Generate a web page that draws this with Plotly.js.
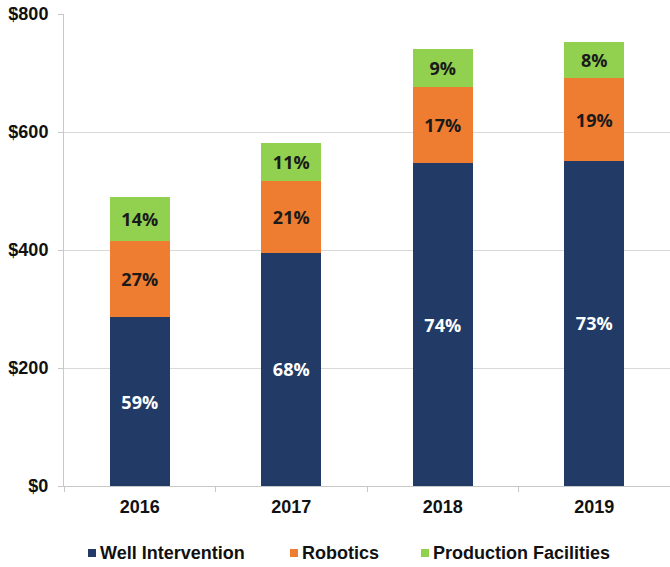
<!DOCTYPE html>
<html>
<head>
<meta charset="utf-8">
<script src="https://cdn.plot.ly/plotly-3.0.1.min.js"></script>
<style>html,body{margin:0;padding:0;background:#fff;}#chart{width:670px;height:567px;}</style>
</head>
<body>
<div id="chart"></div>
<script>
var years = ["2016", "2017", "2018", "2019"];
var wellIntervention = [286, 395, 547, 551];
var robotics = [129, 122, 130, 140];
var productionFacilities = [74, 64, 63, 62];
var wellPct = ["59%", "68%", "74%", "73%"];
var roboticsPct = ["27%", "21%", "17%", "19%"];
var prodPct = ["14%", "11%", "9%", "8%"];
var seriesNames = ["Well Intervention", "Robotics", "Production Facilities"];
var yTickVals = [0, 200, 400, 600, 800];
var yTickText = ["$0", "$200", "$400", "$600", "$800"];

var colors = ["#213a66", "#ee7d31", "#92d050"];
var textColors = ["#ffffff", "#1a1a1a", "#1a1a1a"];
var labelFont = "'Open Sans', sans-serif";
var axisFont = "'Liberation Sans', Arial, sans-serif";

function barTrace(name, vals, txt, i) {
  return {
    type: "bar", name: name, x: years, y: vals, text: txt,
    textposition: "inside", insidetextanchor: "middle", textangle: 0,
    constraintext: "none", texttemplate: "%{text}",
    textfont: {family: labelFont, size: 18, color: textColors[i], weight: 700},
    marker: {color: colors[i], line: {width: 0}},
    hoverinfo: "skip", showlegend: false
  };
}

var data = [
  barTrace(seriesNames[0], wellIntervention, wellPct, 0),
  barTrace(seriesNames[1], robotics, roboticsPct, 1),
  barTrace(seriesNames[2], productionFacilities, prodPct, 2)
];

// legend built as squares + text
var legendX = [88, 290, 421];
var shapes = [], annotations = [];
for (var i = 0; i < 3; i++) {
  shapes.push({type: "rect", xref: "paper", yref: "paper",
    x0: (legendX[i] - 64) / 606, x1: (legendX[i] + 8 - 64) / 606,
    y0: -(549 - 486) / 472, y1: -(557 - 486) / 472,
    fillcolor: colors[i], line: {width: 0}});
  annotations.push({xref: "paper", yref: "paper", x: (legendX[i] + 10 - 64) / 606,
    y: -(553 - 486) / 472, xanchor: "left", yanchor: "middle", showarrow: false,
    text: seriesNames[i],
    font: {family: axisFont, size: 18, color: "#111111", weight: 700}});
}

var layout = {
  width: 670, height: 567,
  margin: {l: 64, r: 0, t: 14, b: 81},
  paper_bgcolor: "#ffffff", plot_bgcolor: "#ffffff",
  barmode: "stack", bargap: 0.604,
  showlegend: false,
  xaxis: {
    type: "category", showgrid: false, showline: true, linecolor: "#c8c8c8", linewidth: 1,
    ticks: "outside", tickson: "boundaries", ticklen: 5, tickcolor: "#c8c8c8",
    tickfont: {family: axisFont, size: 18, color: "#111111", weight: 700},
    ticklabelstandoff: 4, fixedrange: true
  },
  yaxis: {
    range: [0, 800], tickmode: "array", tickvals: yTickVals, ticktext: yTickText,
    showgrid: true, gridcolor: "#d9d9d9", gridwidth: 1,
    showline: true, linecolor: "#c8c8c8", linewidth: 1,
    ticks: "outside", ticklen: 5, tickcolor: "#c8c8c8",
    tickfont: {family: axisFont, size: 18, color: "#111111", weight: 700},
    ticklabelstandoff: 6, zeroline: false, fixedrange: true
  },
  shapes: shapes,
  annotations: annotations
};

Plotly.newPlot("chart", data, layout, {displayModeBar: false, staticPlot: true});
</script>
</body>
</html>
